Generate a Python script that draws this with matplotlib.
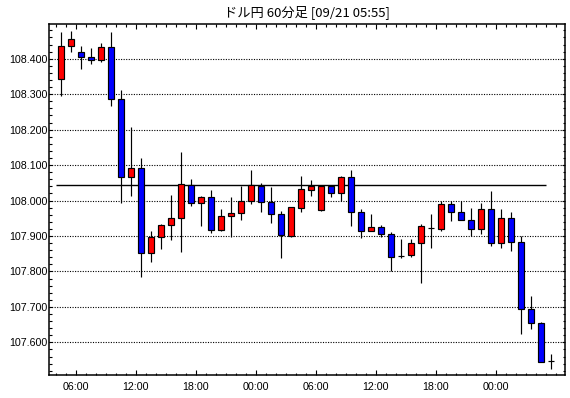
import matplotlib
matplotlib.use("Agg")
import matplotlib.pyplot as plt
from matplotlib.ticker import MultipleLocator, FixedLocator, FuncFormatter

# ---- data (USD/JPY, 60-minute candles) ----
opens = [108.342, 108.437, 108.420, 108.405, 108.397, 108.434, 108.285, 108.065, 108.093, 107.852,
         107.896, 107.932, 107.952, 108.045, 107.994, 108.011, 107.918, 107.955, 107.966, 107.998,
         108.041, 107.997, 107.963, 107.900, 107.979, 108.031, 107.973, 108.042, 108.022, 108.065,
         107.969, 107.915, 107.924, 107.907, 107.843, 107.845, 107.879, 107.922, 107.920, 107.991,
         107.969, 107.946, 107.921, 107.977, 107.879, 107.952, 107.882, 107.693, 107.656, 107.547]
highs = [108.475, 108.477, 108.437, 108.430, 108.443, 108.475, 108.313, 108.206, 108.119, 107.913,
         107.935, 108.015, 108.136, 108.060, 108.014, 108.029, 107.975, 108.009, 108.041, 108.085,
         108.050, 108.037, 107.970, 107.981, 108.069, 108.057, 108.042, 108.042, 108.068, 108.085,
         107.975, 107.961, 107.930, 107.910, 107.891, 107.891, 107.935, 107.961, 107.999, 107.999,
         107.999, 107.978, 107.993, 108.026, 107.977, 107.969, 107.900, 107.730, 107.658, 107.567]
lows = [108.294, 108.419, 108.371, 108.385, 108.390, 108.266, 107.994, 108.013, 107.785, 107.827,
        107.862, 107.890, 107.855, 107.985, 107.928, 107.909, 107.914, 107.896, 107.945, 107.990,
        107.968, 107.937, 107.837, 107.897, 107.968, 108.014, 107.971, 108.010, 107.999, 107.928,
        107.895, 107.913, 107.897, 107.801, 107.839, 107.841, 107.768, 107.866, 107.914, 107.943,
        107.945, 107.901, 107.907, 107.872, 107.866, 107.858, 107.625, 107.637, 107.544, 107.525]
closes = [108.435, 108.456, 108.404, 108.397, 108.434, 108.285, 108.065, 108.093, 107.852, 107.896,
          107.932, 107.952, 108.048, 107.994, 108.011, 107.918, 107.955, 107.966, 107.998, 108.043,
          107.997, 107.963, 107.904, 107.981, 108.032, 108.042, 108.042, 108.020, 108.065, 107.969,
          107.915, 107.924, 107.907, 107.842, 107.843, 107.879, 107.928, 107.922, 107.991, 107.969,
          107.946, 107.921, 107.977, 107.879, 107.952, 107.882, 107.693, 107.656, 107.544, 107.547]
ref_price = 108.043
tick_labels = ["06:00", "12:00", "18:00", "00:00", "06:00", "12:00", "18:00", "00:00"]
title = "ドル円 60分足 [09/21 05:55]"

n = len(opens)
xs = list(range(n))

W, H = 570, 398
fig = plt.figure(figsize=(W / 100, H / 100), dpi=100)
fig.patch.set_facecolor("white")
ax = fig.add_axes([49.3 / W, 1 - 375 / H, (565 - 49.3) / W, (375 - 24.3) / H])

# grid
for lvl in [107.6, 107.7, 107.8, 107.9, 108.0, 108.1, 108.2, 108.3, 108.4]:
    ax.axhline(lvl, color="black", lw=0.8, ls=(0, (1, 1.3)), zorder=1)

# reference line
ax.hlines(ref_price, -0.5, 48.5, color="black", lw=1.0, zorder=2)

# wicks
ax.vlines(xs, lows, highs, color="black", lw=0.85, zorder=3)

# bodies
colors = []
for o, c in zip(opens, closes):
    if c > o:
        colors.append("#ff0000")
    elif c < o:
        colors.append("#0000ff")
    else:
        colors.append("black")
bottoms = [min(o, c) for o, c in zip(opens, closes)]
heights = [abs(c - o) for o, c in zip(opens, closes)]
ax.bar(xs, heights, bottom=bottoms, width=0.62, color=colors, edgecolor="black",
       linewidth=0.85, zorder=4)

ax.set_xlim(-1.14, 50.43)
ax.set_ylim(107.508, 108.497)

# ticks
ax.yaxis.set_major_locator(MultipleLocator(0.1))
ax.yaxis.set_minor_locator(MultipleLocator(0.02))
ax.yaxis.set_major_formatter(FuncFormatter(lambda v, p: f"{v:.3f}"))
major_x = [1.5 + 6 * k for k in range(len(tick_labels))]
ax.xaxis.set_major_locator(FixedLocator(major_x))
ax.xaxis.set_minor_locator(FixedLocator([k + 0.5 for k in range(-1, 50)]))
ax.set_xticklabels(tick_labels)

ax.tick_params(axis="both", which="both", direction="in", colors="black",
               top=True, right=True, labelsize=7.7)
ax.tick_params(axis="y", which="major", length=2.2, width=0.8, pad=1.5)
ax.tick_params(axis="y", which="minor", length=1.8, width=0.8)
ax.tick_params(axis="x", which="major", length=3.6, width=0.8, pad=5)
ax.tick_params(axis="x", which="minor", length=1.8, width=0.8)
for lab in ax.get_xticklabels() + ax.get_yticklabels():
    lab.set_fontfamily(["Liberation Sans", "DejaVu Sans"])

for s in ax.spines.values():
    s.set_linewidth(1.1)
    s.set_color("black")

fig.text(307 / W, 1 - 12.5 / H, title, ha="center", va="center", fontsize=9.5,
         family=["Noto Sans CJK JP", "DejaVu Sans"])

fig.savefig("out.png", dpi=100, facecolor="white")
